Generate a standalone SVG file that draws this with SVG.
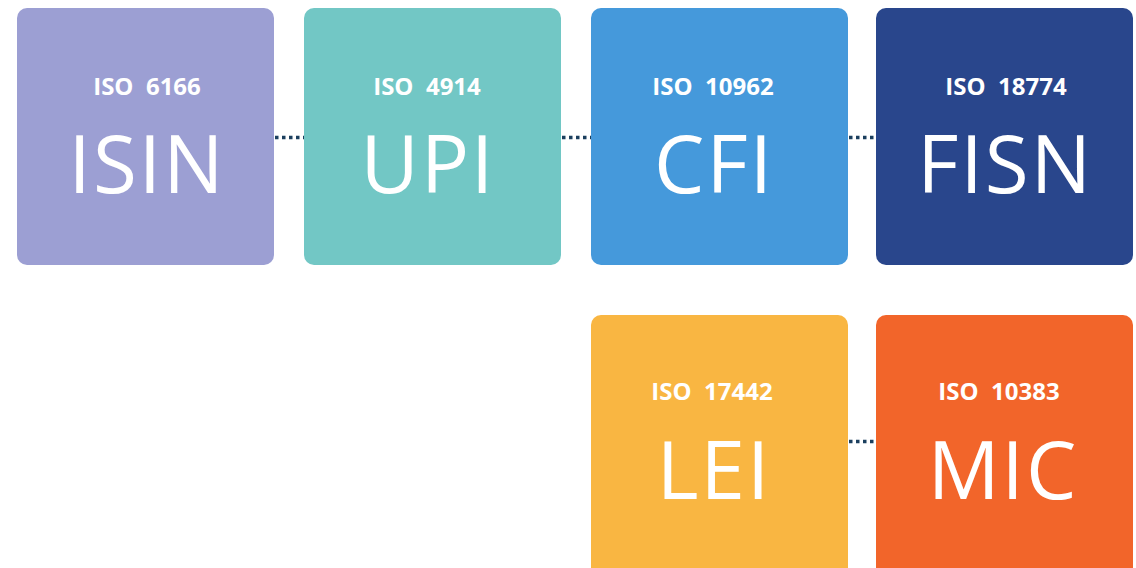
<svg xmlns="http://www.w3.org/2000/svg" width="1136" height="568" viewBox="0 0 1136 568">
<style>
.box{stroke:none}
.sub{font-family:"Open Sans","Liberation Sans",sans-serif;font-weight:700;font-size:24px;fill:#fff;text-anchor:middle;white-space:pre}
.big{font-family:"Open Sans","Liberation Sans",sans-serif;font-weight:400;font-size:80px;fill:#fff;text-anchor:middle;letter-spacing:2px}
.con{stroke:#1b3f5e;stroke-width:3.5;stroke-dasharray:3.5 3.5;fill:none}
</style>
<rect width="1136" height="568" fill="#fff"/>
<g id="connectors">
<line class="con" x1="275" y1="137.5" x2="304" y2="137.5"/>
<line class="con" x1="562" y1="137.5" x2="591" y2="137.5"/>
<line class="con" x1="849" y1="137.5" x2="876" y2="137.5"/>
<line class="con" x1="849" y1="441.5" x2="876" y2="441.5"/>
</g>
<g id="isin">
<rect class="box" x="17" y="8" width="257" height="257" rx="10" fill="#9c9fd3"/>
<text class="sub" x="147" y="95">ISO  6166</text>
<text class="big" x="147" y="193">ISIN</text>
</g>
<g id="upi">
<rect class="box" x="304" y="8" width="257" height="257" rx="10" fill="#72c7c5"/>
<text class="sub" x="427" y="95">ISO  4914</text>
<text class="big" x="428" y="193">UPI</text>
</g>
<g id="cfi">
<rect class="box" x="591" y="8" width="257" height="257" rx="10" fill="#4599db"/>
<text class="sub" x="713" y="95">ISO  10962</text>
<text class="big" x="714" y="193">CFI</text>
</g>
<g id="fisn">
<rect class="box" x="876" y="8" width="257" height="257" rx="10" fill="#29468c"/>
<text class="sub" x="1006" y="95">ISO  18774</text>
<text class="big" x="1005" y="193">FISN</text>
</g>
<g id="lei">
<rect class="box" x="591" y="315" width="257" height="270" rx="10" fill="#f9b642"/>
<text class="sub" x="712" y="400">ISO  17442</text>
<text class="big" x="714" y="499">LEI</text>
</g>
<g id="mic">
<rect class="box" x="876" y="315" width="257" height="270" rx="10" fill="#f2652a"/>
<text class="sub" x="999" y="400">ISO  10383</text>
<text class="big" x="1003" y="499">MIC</text>
</g>
</svg>
